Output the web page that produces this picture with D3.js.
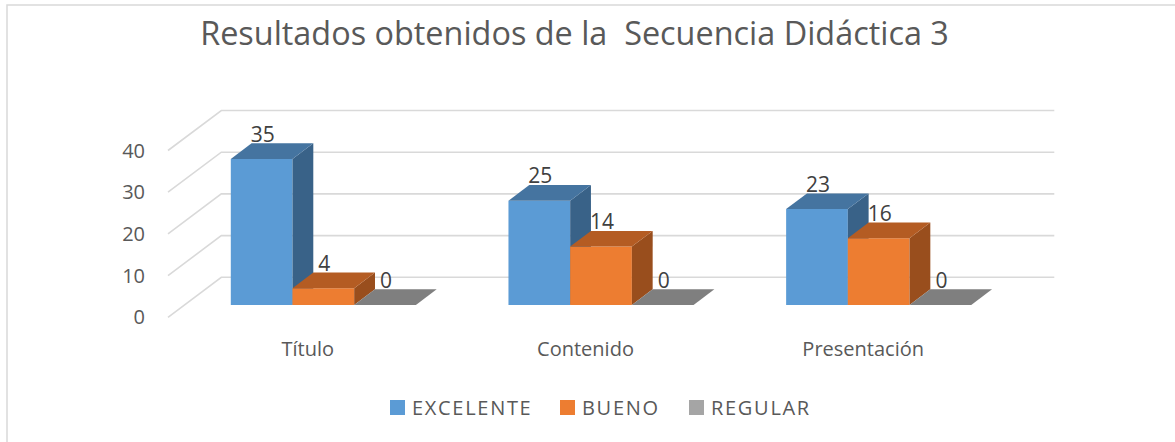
<!DOCTYPE html>
<html>
<head>
<meta charset="utf-8">
<script src="https://cdn.jsdelivr.net/npm/d3@7"></script>
<style>
  body { margin: 0; background: #fff; }
  text { font-family: "Open Sans", sans-serif; }
</style>
</head>
<body>
<svg class="e" width="1175" height="442"></svg>
<script>

// datos
const categorias = ["Título", "Contenido", "Presentación"];
const series = ["EXCELENTE", "BUENO", "REGULAR"];
const excelente = [35, 25, 23];
const bueno = [4, 14, 16];
const regular = [0, 0, 0];
const ticks_y = [0, 10, 20, 30, 40];
const titulo = "Resultados obtenidos de la  Secuencia Didáctica 3";

const valores = [excelente, bueno, regular];

// colores: frente, techo, lado
const colores = {
  "EXCELENTE": ["#5b9bd5", "#4574a0", "#396288"],
  "BUENO": ["#ed7d31", "#b45c23", "#994e1d"],
  "REGULAR": ["#a5a5a5", "#7f7f7f", "#6e6e6e"]
};

const svg = d3.select("svg.e");

// borde del grafico
svg.append("rect")
  .attr("x", 7).attr("y", 5)
  .attr("width", 1200).attr("height", 480)
  .attr("fill", "#fff")
  .attr("stroke", "#d9d9d9")
  .attr("stroke-width", 1.5);

svg.append("text")
  .attr("x", 574.5).attr("y", 45)
  .attr("text-anchor", "middle")
  .attr("fill", "#595959")
  .attr("font-size", 32.4)
  .style("white-space", "pre")
  .text(titulo);

// escalas
const x0 = d3.scaleBand().domain(categorias).range([168, 1001]).padding(0);
const x1 = d3.scaleBand().domain(series).range([0, x0.bandwidth()]).paddingInner(0).paddingOuter(0.75);
const y = d3.scaleLinear().domain([0, 40]).range([317.3, 150.5]);

// proyeccion oblicua (profundidad z de 0 a 1)
const DX = 53.3, DY = 40;
const px = (xw, z) => xw + z * DX;
const py = (v, z) => y(v) - z * DY;
const z0 = 0.31, z1 = 0.70;

const g = svg.append("g");

// lineas de cuadricula: diagonal en la pared lateral y horizontal en la pared del fondo
const x_ini = x0.range()[0], x_fin = x0.range()[1];
g.selectAll(".grid")
  .data(ticks_y).enter()
  .append("path")
  .attr("class", "grid")
  .attr("fill", "none")
  .attr("stroke", "#d9d9d9")
  .attr("stroke-width", 1.6)
  .attr("d", d => "M" + px(x_ini, 0) + "," + py(d, 0) +
                  "L" + px(x_ini, 1) + "," + py(d, 1) +
                  "L" + px(x_fin, 1) + "," + py(d, 1));

// etiquetas eje y
g.selectAll(".ytick")
  .data(ticks_y).enter()
  .append("text")
  .attr("class", "ytick")
  .attr("x", 145)
  .attr("y", d => y(d))
  .attr("dy", "0.35em")
  .attr("text-anchor", "end")
  .attr("fill", "#595959")
  .attr("font-size", 20)
  .text(d => d);

// barras 3d
const barras = [];
categorias.forEach((c, i) => {
  series.forEach((s, j) => {
    barras.push({ cat: c, serie: s, valor: valores[j][i] });
  });
});

const b = g.selectAll(".barra")
  .data(barras).enter()
  .append("g").attr("class", "barra");

const pts = a => a.map(p => p.join(",")).join(" ");

b.each(function (d) {
  const xa = x0(d.cat) + x1(d.serie);
  const xb = xa + x1.bandwidth();
  const v = d.valor;
  const sel = d3.select(this);
  const col = colores[d.serie];
  if (v > 0) {
    // frente
    sel.append("polygon").attr("fill", col[0])
      .attr("points", pts([[px(xa, z0), py(0, z0)], [px(xb, z0), py(0, z0)], [px(xb, z0), py(v, z0)], [px(xa, z0), py(v, z0)]]));
    // lado
    sel.append("polygon").attr("fill", col[2])
      .attr("points", pts([[px(xb, z0), py(0, z0)], [px(xb, z1), py(0, z1)], [px(xb, z1), py(v, z1)], [px(xb, z0), py(v, z0)]]));
  }
  // techo
  sel.append("polygon").attr("fill", col[1])
    .attr("points", pts([[px(xa, z0), py(v, z0)], [px(xb, z0), py(v, z0)], [px(xb, z1), py(v, z1)], [px(xa, z1), py(v, z1)]]));
});

// etiquetas de datos
g.selectAll(".etq")
  .data(barras).enter()
  .append("text")
  .attr("class", "etq")
  .attr("x", d => px(x0(d.cat) + x1(d.serie) + x1.bandwidth() / 2, z0) + 1)
  .attr("y", d => py(d.valor, z1) - 9)
  .attr("dy", "0.35em")
  .attr("text-anchor", "middle")
  .attr("fill", "#404040")
  .attr("font-size", 21)
  .text(d => d.valor);

// etiquetas de categoria
g.selectAll(".cat")
  .data(categorias).enter()
  .append("text")
  .attr("class", "cat")
  .attr("x", d => x0(d) + x0.bandwidth() / 2 + 1)
  .attr("y", 356)
  .attr("text-anchor", "middle")
  .attr("fill", "#595959")
  .attr("font-size", 20)
  .text(d => d);

// leyenda
const ley_x = [390, 560, 689];
const ley = svg.selectAll(".ley")
  .data(series).enter()
  .append("g").attr("class", "ley")
  .attr("transform", (d, i) => "translate(" + ley_x[i] + ",400)");

ley.append("rect")
  .attr("width", 15).attr("height", 15)
  .attr("fill", d => colores[d][0]);

ley.append("text")
  .attr("x", 22).attr("y", 14.5)
  .attr("fill", "#595959")
  .attr("font-size", 20)
  .attr("letter-spacing", 1.7)
  .text(d => d);

</script>
</body>
</html>
